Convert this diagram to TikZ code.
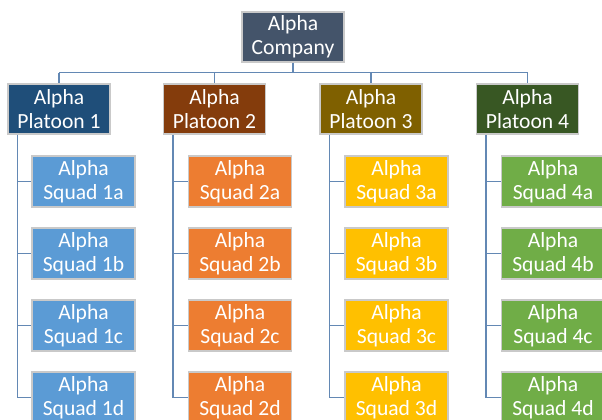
\documentclass[tikz,border=0pt]{standalone}
\usepackage{fontspec}
\setmainfont{Carlito}
\definecolor{boxborder}{HTML}{C9C9C9}
\definecolor{linkc}{HTML}{6388B4}
\definecolor{ccomp}{HTML}{44546A}
\definecolor{cp1}{HTML}{1F4E79}
\definecolor{cp2}{HTML}{843C0C}
\definecolor{cp3}{HTML}{7F6000}
\definecolor{cp4}{HTML}{385723}
\definecolor{cs1}{HTML}{5B9BD5}
\definecolor{cs2}{HTML}{ED7D31}
\definecolor{cs3}{HTML}{FFC000}
\definecolor{cs4}{HTML}{70AD47}
\begin{document}
\begin{tikzpicture}[x=1pt,y=-1pt,
  box/.style={draw=boxborder, line width=1.2pt, minimum width=102pt, minimum height=50pt,
    inner sep=0pt, text=white, align=center, font=\fontsize{21.6}{24}\selectfont},
  squadbox/.style={box, minimum width=103pt, minimum height=51pt},
  link/.style={draw=linkc, line width=1.5pt}]
\useasboundingbox (0,0) rectangle (602,420);
\node[box, fill=ccomp] (comp) at (293,37) {Alpha\\Company};
\node[box, fill=cp1] (p1) at (59,109) {Alpha\\Platoon 1};
\node[box, fill=cp2] (p2) at (214.5,109) {Alpha\\Platoon 2};
\node[box, fill=cp3] (p3) at (371,109) {Alpha\\Platoon 3};
\node[box, fill=cp4] (p4) at (527.5,109) {Alpha\\Platoon 4};
\foreach \i/\x in {1/83.5,2/240,3/396.5,4/553}{
  \foreach \j/\y in {a/181.5,b/253.5,c/325.5,d/397.5}{
    \node[squadbox, fill=cs\i] (s\i\j) at (\x,\y) {Alpha\\Squad \i\j};
  }
}
\coordinate (bus) at (0,72.5);
\draw[link] (comp.south) -- (comp.south |- bus);
\draw[link] (p1.north |- bus) -- (p4.north |- bus);
\foreach \i in {1,2,3,4}{
  \draw[link] (p\i.north |- bus) -- (p\i.north);
  \path (p\i.south west) ++(10,0) coordinate (v\i);
  \draw[link] (v\i) |- (s\i d.west);
  \foreach \j in {a,b,c}{
    \draw[link] (v\i |- s\i\j.west) -- (s\i\j.west);
  }
}
\end{tikzpicture}
\end{document}
